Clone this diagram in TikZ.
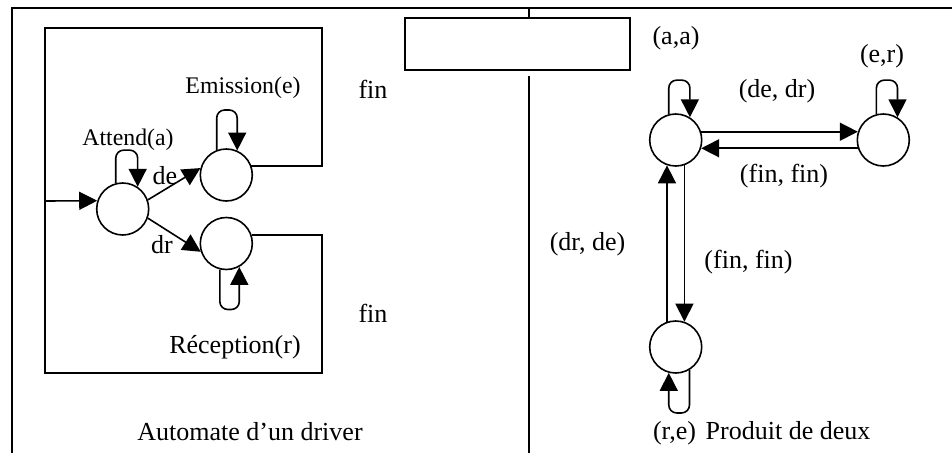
\documentclass[tikz,border=0pt]{standalone}
\usepackage{fontspec}
\setmainfont{Liberation Serif}
\usetikzlibrary{arrows.meta,automata}

\begin{document}
\begin{tikzpicture}[x=1pt,y=-1pt,>={Triangle[length=18pt,width=18pt]},line width=1.6pt,
  every node/.style={font=\fontsize{26}{30}\selectfont},
  small/.style={font=\fontsize{23.8}{28}\selectfont},
  lp/.style={->,rounded corners=8pt}]
  \tikzset{every state/.style={draw,inner sep=0pt,minimum size=52pt}}
  \useasboundingbox (0,0) rectangle (952,453);
  % cadre
  \draw (952,8) -| (12,453);
  \node[draw,inner sep=0pt,minimum width=225pt,minimum height=52pt] (box) at (517.5,44) {};
  \draw (529,8) -- (529,18);
  \draw (529,76) -- (529,453);
  % automate d'un driver
  \node[state] (att) at (122.7,209) {};
  \node[state] (emi) at (226.3,175) {};
  \node[state] (rec) at (226.3,243.5) {};
  \coordinate (ent) at (45,201);
  \path[->] (ent) edge (att.162);
  \path[->] (att.20) edge (emi.165);
  \path[->] (att.-20) edge (rec.198);
  \draw (emi.20) -| (322,28) -| (ent);
  \draw (rec.19) -| (322,373) -| (ent);
  \draw[lp] (att.105) -- ++(0,-33) -| (att.56);
  \draw[lp] (emi.111) -- ++(0,-40) -| (emi.66);
  \draw[lp] (rec.-104) -- ++(0,40) -| (rec.-61);
  \node[small] (lemi) at (243,88) {Emission(e)};
  \node[small] (latt) at (128,140) {Attend(a)};
  \node (lde) at (165,176) {de};
  \node (ldr) at (162,245) {dr};
  \node (lfin1) at (373,89) {fin};
  \node (lfin2) at (373,313) {fin};
  \node (lrec) at (235,347) {Réception(r)};
  \node (ltit1) at (250,432) {Automate d’un driver};
  % produit de deux
  \node[state] (aa) at (675.7,140) {};
  \node[state] (er) at (883.3,140) {};
  \node[state] (re) at (675.7,347) {};
  \path[->] (aa.18) edge (er.162);
  \path[->] (er.198) edge (aa.-18);
  \path[->] (re.109) edge (aa.-109);
  \path[->] (aa.-71) edge (re.71);
  \draw[lp] (aa.105) -- ++(0,-34) -| (aa.58);
  \draw[lp] (er.105) -- ++(0,-34) -| (er.58);
  \draw[lp] (re.-59) -- ++(0,43) -| (re.-105);
  \node (laa) at (676,38) {(a,a)};
  \node (ler) at (882,56) {(e,r)};
  \node (ldedr) at (777,91) {(de, dr)};
  \node (lfin3) at (784,176) {(fin, fin)};
  \node (ldrde) at (587.5,244) {(dr, de)};
  \node (lfin4) at (748.5,262) {(fin, fin)};
  \node (lre) at (674.5,433) {(r,e)};
  \node (ltit2) at (788,431) {Produit de deux};
\end{tikzpicture}
\end{document}
